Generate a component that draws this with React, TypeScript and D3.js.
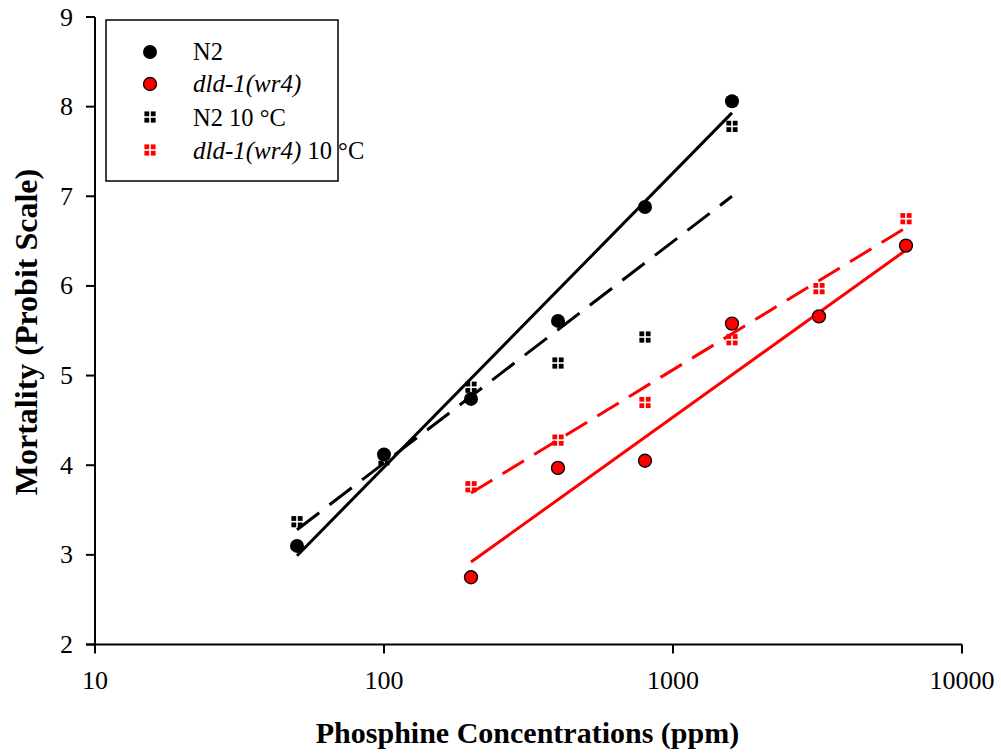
import React from "react";
import * as d3 from "d3";

const concN2 = [50, 100, 200, 400, 800, 1600];
const mortN2 = [3.1, 4.12, 4.74, 5.61, 6.88, 8.06];
const concN2Cold = [50, 100, 200, 400, 800, 1600];
const mortN2Cold = [3.37, 4.06, 4.87, 5.14, 5.43, 7.78];
const concDld = [200, 400, 800, 1600, 3200, 6400];
const mortDld = [2.75, 3.97, 4.05, 5.58, 5.66, 6.45];
const concDldCold = [200, 400, 800, 1600, 3200, 6400];
const mortDldCold = [3.76, 4.28, 4.7, 5.4, 5.97, 6.75];

// trendline end points [x0, x1], [y0, y1]
const trendN2X = [50, 1600];
const trendN2Y = [2.99, 7.93];
const trendN2ColdX = [50, 1600];
const trendN2ColdY = [3.28, 7.0];
const trendDldX = [200, 6400];
const trendDldY = [2.92, 6.4];
const trendDldColdX = [200, 6400];
const trendDldColdY = [3.69, 6.65];

const xTicks = [10, 100, 1000, 10000];
const yTicks = [2, 3, 4, 5, 6, 7, 8, 9];

const FONT = "'Liberation Serif', serif";

function Square({ cx, cy, color }: { cx: number; cy: number; color: string }) {
  const s = 4.8;
  const g = 1.6;
  const h = s + g / 2;
  return (
    <g>
      <rect x={cx - h} y={cy - h} width={s} height={s} fill={color} />
      <rect x={cx + g / 2} y={cy - h} width={s} height={s} fill={color} />
      <rect x={cx - h} y={cy + g / 2} width={s} height={s} fill={color} />
      <rect x={cx + g / 2} y={cy + g / 2} width={s} height={s} fill={color} />
    </g>
  );
}

export default function App() {
  const x = d3.scaleLog().domain([10, 10000]).range([95, 962]);
  const y = d3.scaleLinear().domain([2, 9]).range([644.5, 17]);
  const line = (xs: number[], ys: number[]) =>
    d3.line<number>().x((d, i) => x(xs[i])).y((d) => y(d))(ys) || "";

  return (
    <svg
      width={1001}
      height={756}
      style={{ position: "absolute", left: 0, top: 0, background: "#fff" }}
      fontFamily={FONT}
    >
      <rect x={0} y={0} width={1001} height={756} fill="#fff" />
      {/* axes */}
      <line x1={95} x2={95} y1={y(9)} y2={y(2)} stroke="#000" strokeWidth={2} />
      <line x1={86} x2={962} y1={y(2)} y2={y(2)} stroke="#000" strokeWidth={2} />
      {yTicks.map((t) => (
        <g key={"y" + t}>
          <line x1={86} x2={95} y1={y(t)} y2={y(t)} stroke="#000" strokeWidth={2} />
          <text x={73} y={y(t) + 8.5} textAnchor="end" fontSize={26}>
            {t}
          </text>
        </g>
      ))}
      {xTicks.map((t) => (
        <g key={"x" + t}>
          <line x1={x(t)} x2={x(t)} y1={y(2)} y2={y(2) + 9} stroke="#000" strokeWidth={2} />
          <text x={x(t)} y={689} textAnchor="middle" fontSize={26}>
            {t}
          </text>
        </g>
      ))}
      <text x={527.5} y={743} textAnchor="middle" fontSize={30} fontWeight="bold">
        Phosphine Concentrations (ppm)
      </text>
      <text
        transform={`translate(37,332) rotate(-90)`}
        textAnchor="middle"
        fontSize={32}
        fontWeight="bold"
      >
        Mortality (Probit Scale)
      </text>

      {/* trend lines */}
      <path d={line(trendN2X, trendN2Y)} stroke="#000" strokeWidth={3} fill="none" />
      <path
        d={line(trendN2ColdX, trendN2ColdY)}
        stroke="#000"
        strokeWidth={3}
        fill="none"
        strokeDasharray="28 13"
      />
      <path d={line(trendDldX, trendDldY)} stroke="#ff0000" strokeWidth={3} fill="none" />
      <path
        d={line(trendDldColdX, trendDldColdY)}
        stroke="#ff0000"
        strokeWidth={3}
        fill="none"
        strokeDasharray="25 12"
      />

      {/* points */}
      {mortN2.map((v, i) => (
        <circle key={"n" + i} cx={x(concN2[i])} cy={y(v)} r={7} fill="#000" />
      ))}
      {mortN2Cold.map((v, i) => (
        <Square key={"nc" + i} cx={x(concN2Cold[i])} cy={y(v)} color="#000" />
      ))}
      {mortDld.map((v, i) => (
        <circle
          key={"d" + i}
          cx={x(concDld[i])}
          cy={y(v)}
          r={6.5}
          fill="#ff0000"
          stroke="#000"
          strokeWidth={1.3}
        />
      ))}
      {mortDldCold.map((v, i) => (
        <Square key={"dc" + i} cx={x(concDldCold[i])} cy={y(v)} color="#ff0000" />
      ))}

      {/* legend */}
      <rect x={106} y={20} width={232} height={161} fill="#fff" stroke="#000" strokeWidth={1.5} />
      <circle cx={150} cy={52} r={7} fill="#000" />
      <text x={193} y={60} fontSize={24.5}>N2</text>
      <circle cx={150} cy={84} r={6.5} fill="#ff0000" stroke="#000" strokeWidth={1.3} />
      <text x={193} y={92} fontSize={25} fontStyle="italic">dld-1(wr4)</text>
      <Square cx={150} cy={117} color="#000" />
      <text x={193} y={126} fontSize={24.5}>N2 10 °C</text>
      <Square cx={150} cy={150} color="#ff0000" />
      <text x={193} y={159} fontSize={24.5}>
        <tspan fontStyle="italic" fontSize={25}>dld-1(wr4)</tspan>
        <tspan> 10 °C</tspan>
      </text>
    </svg>
  );
}
